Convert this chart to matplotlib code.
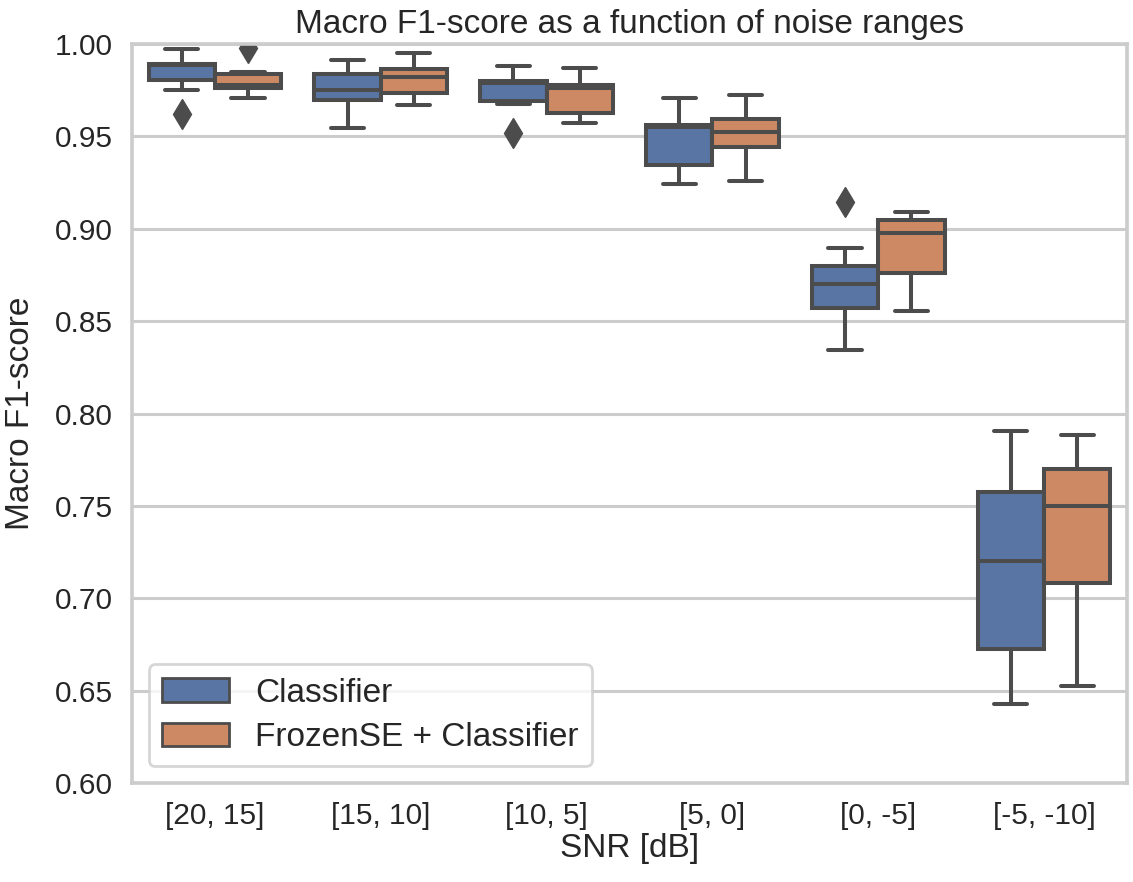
import matplotlib
matplotlib.use("Agg")
import matplotlib.pyplot as plt
from matplotlib.patches import Patch
import seaborn as sns

# ── Data ───────────────────────────────────────────────────────────────────────
ranges = ["[20, 15]", "[15, 10]", "[10, 5]", "[5, 0]", "[0, -5]", "[-5, -10]"]
models = ["Classifier", "FrozenSE + Classifier"]

# per range: lower whisker, Q1, median, Q3, upper whisker
clf_whislo = [0.975, 0.9547, 0.9675, 0.9242, 0.8344, 0.6429]
clf_q1     = [0.9805, 0.9697, 0.9693, 0.9345, 0.8573, 0.6724]
clf_med    = [0.9885, 0.9750, 0.9787, 0.9550, 0.8703, 0.7202]
clf_q3     = [0.9890, 0.9838, 0.9800, 0.9562, 0.8798, 0.7577]
clf_whishi = [0.9973, 0.9913, 0.9883, 0.9708, 0.8896, 0.7905]
clf_fliers = [[0.962], [], [0.9517], [], [0.9143], []]

fse_whislo = [0.971, 0.9672, 0.9574, 0.9260, 0.8557, 0.6527]
fse_q1     = [0.976, 0.9737, 0.9625, 0.9444, 0.8759, 0.7081]
fse_med    = [0.978, 0.9821, 0.9760, 0.9525, 0.8979, 0.7501]
fse_q3     = [0.984, 0.9866, 0.9780, 0.9594, 0.9047, 0.7700]
fse_whishi = [0.985, 0.9950, 0.9872, 0.9726, 0.9091, 0.7885]
fse_fliers = [[0.9978], [], [], [], [], []]

# ── Style ──────────────────────────────────────────────────────────────────────
sns.set_theme(style="whitegrid")
plt.rcParams["font.family"] = ["Liberation Sans", "DejaVu Sans"]
FS_TICK = 21.5
FS = 24
LINE = "#4c4c4c"
COLORS = ["#5875a4", "#cc8963"]
LW = 2.9


def make_stats(lo, q1, med, q3, hi, fl):
    return [dict(whislo=a, q1=b, med=c, q3=d, whishi=e, fliers=f)
            for a, b, c, d, e, f in zip(lo, q1, med, q3, hi, fl)]


stats = [
    make_stats(clf_whislo, clf_q1, clf_med, clf_q3, clf_whishi, clf_fliers),
    make_stats(fse_whislo, fse_q1, fse_med, fse_q3, fse_whishi, fse_fliers),
]

fig = plt.figure(figsize=(11.33, 8.82), dpi=100)
ax = fig.add_axes([0.1165, 0.1122, 0.8782, 0.8379])

line_kw = dict(color=LINE, linewidth=LW, solid_capstyle="round")
for k, (st, col) in enumerate(zip(stats, COLORS)):
    pos = [i - 0.2 + 0.4 * k for i in range(len(ranges))]
    ax.bxp(st, positions=pos, widths=0.4, patch_artist=True, manage_ticks=False,
           boxprops=dict(facecolor=col, edgecolor=LINE, linewidth=LW),
           medianprops=line_kw, whiskerprops=line_kw, capprops=line_kw,
           capwidths=0.2,
           flierprops=dict(marker="d", markersize=15, markerfacecolor=LINE,
                           markeredgecolor=LINE))

ax.set_xlim(-0.5, len(ranges) - 0.5)
ax.set_ylim(0.60, 1.00)
ax.set_xticks(range(len(ranges)))
ax.set_xticklabels(ranges)
ax.set_yticks([0.60 + 0.05 * i for i in range(9)])
ax.set_yticklabels([f"{0.60 + 0.05 * i:.2f}" for i in range(9)])
ax.tick_params(labelsize=FS_TICK, colors="#262626", pad=8)
ax.xaxis.grid(False)
ax.yaxis.grid(True, color="#cccccc", linewidth=2.2)
for s in ax.spines.values():
    s.set_edgecolor("#cccccc")
    s.set_linewidth(2.6)

ax.set_title("Macro F1-score as a function of noise ranges", fontsize=FS,
             color="#262626", pad=8)
ax.set_xlabel("SNR [dB]", fontsize=FS, color="#262626", labelpad=2)
ax.set_ylabel("Macro F1-score", fontsize=FS, color="#262626", labelpad=13)

handles = [Patch(facecolor=c, edgecolor=LINE, linewidth=2, label=m)
           for c, m in zip(COLORS, models)]
leg = ax.legend(handles=handles, loc="lower left", fontsize=FS,
                borderaxespad=0.5, handlelength=2.0, handleheight=0.7,
                labelspacing=0.4)
leg.get_frame().set_edgecolor("#cccccc")
leg.get_frame().set_linewidth(2)

fig.savefig("out.png", dpi=100)
